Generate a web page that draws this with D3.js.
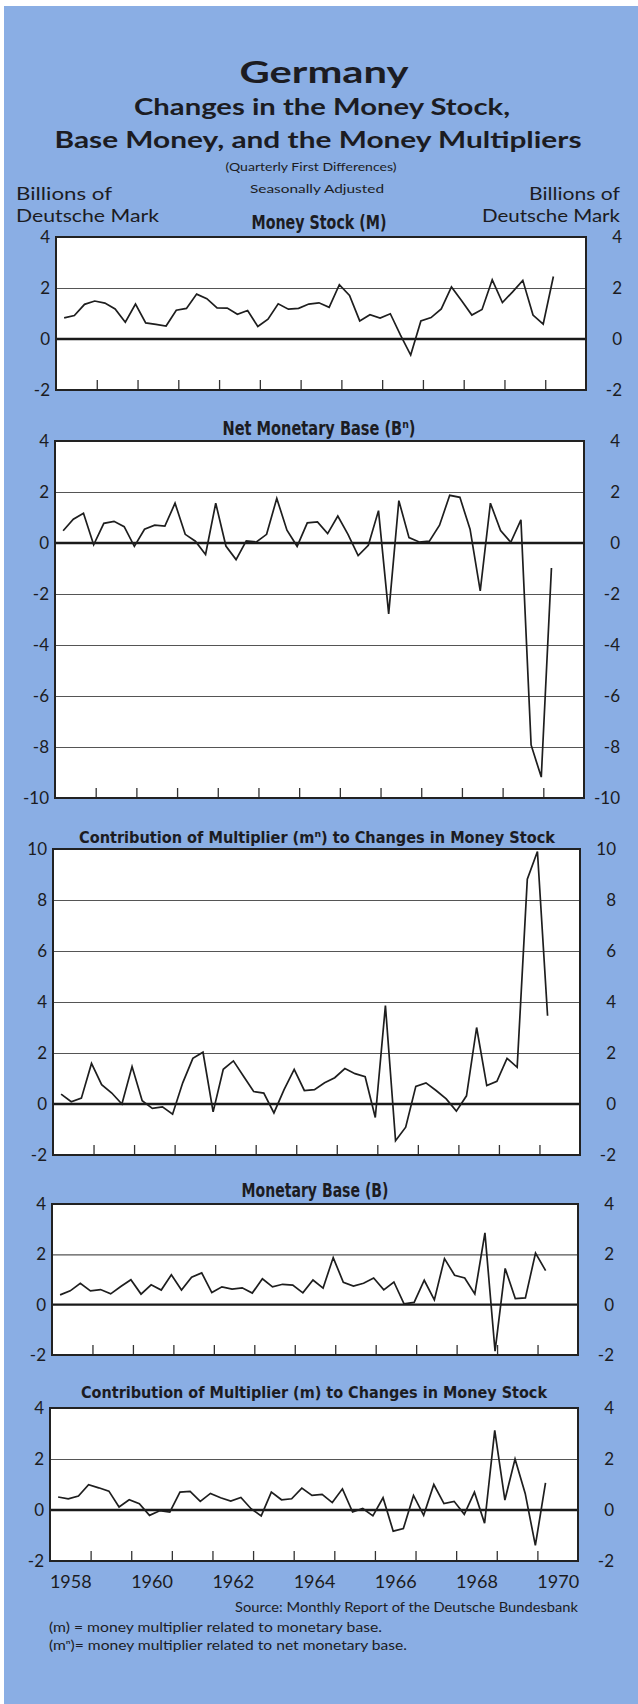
<!DOCTYPE html>
<html>
<head>
<meta charset="utf-8">
<script src="https://cdn.jsdelivr.net/npm/d3@7"></script>
<style>
  body { margin: 0; background: #fff; }
  svg text { fill: #1c1c22; }
  .geo { font-family: Lato, "Noto Sans", sans-serif; }
  .cond { font-family: "Liberation Sans Narrow", "DejaVu Sans Condensed", sans-serif; font-weight: bold; }
</style>
</head>
<body>
<div id="chart"></div>
<script>
// quarterly first differences, 1958Q1 .. 1970Q1
const quarters = d3.range(49).map(i => 1958 + i / 4);
const years = d3.range(1958, 1971);
const yearLabels = [1958, 1960, 1962, 1964, 1966, 1968, 1970];

const moneyStock = [0.83,0.92,1.36,1.49,1.41,1.18,0.66,1.37,0.63,0.57,
  0.51,1.13,1.2,1.76,1.58,1.22,1.21,0.97,1.12,0.49,
  0.78,1.38,1.17,1.2,1.37,1.42,1.24,2.13,1.71,0.71,
  0.95,0.82,0.99,0.15,-0.63,0.71,0.84,1.18,2.04,1.5,
  0.94,1.16,2.32,1.43,1.85,2.3,0.94,0.58,2.45];

const netBase = [0.48,0.93,1.17,-0.07,0.77,0.85,0.64,-0.13,0.54,0.7,
  0.66,1.56,0.34,0.07,-0.45,1.56,-0.12,-0.65,0.08,0.04,
  0.34,1.75,0.5,-0.13,0.79,0.83,0.37,1.06,0.34,-0.49,
  -0.09,1.27,-2.78,1.66,0.21,0.04,0.07,0.7,1.87,1.79,
  0.54,-1.88,1.56,0.49,0.03,0.91,-7.92,-9.18,-0.98];

const multNet = [0.39,0.09,0.23,1.59,0.76,0.43,0.0,1.47,0.13,-0.17,
  -0.11,-0.4,0.83,1.79,2.03,-0.31,1.36,1.69,1.09,0.49,
  0.43,-0.35,0.56,1.36,0.53,0.56,0.83,1.03,1.39,1.19,
  1.07,-0.53,3.86,-1.44,-0.91,0.69,0.83,0.53,0.2,-0.28,
  0.32,3.0,0.72,0.89,1.79,1.44,8.82,9.9,3.46];

const monetaryBase = [0.39,0.55,0.85,0.55,0.6,0.43,0.72,0.99,0.42,0.79,
  0.58,1.19,0.58,1.09,1.26,0.48,0.71,0.62,0.67,0.46,
  1.03,0.71,0.81,0.78,0.47,0.98,0.66,1.87,0.89,0.74,
  0.85,1.06,0.59,0.9,0.03,0.09,0.97,0.19,1.83,1.17,
  1.06,0.43,2.85,-1.85,1.44,0.24,0.27,2.05,1.35];

const mult = [0.51,0.44,0.55,0.99,0.87,0.74,0.12,0.4,0.25,-0.21,
  -0.03,-0.08,0.7,0.73,0.34,0.65,0.48,0.35,0.49,0.05,
  -0.23,0.7,0.4,0.44,0.86,0.57,0.61,0.29,0.83,-0.08,
  0.06,-0.23,0.48,-0.83,-0.73,0.57,-0.21,1.0,0.25,0.34,
  -0.17,0.7,-0.52,3.12,0.39,2.0,0.65,-1.39,1.06];

const width = 638, height = 1704;

const svg = d3.select("#chart").append("svg")
  .attr("width", width)
  .attr("height", height);

svg.append("rect")
  .attr("x", 4).attr("y", 6)
  .attr("width", width - 4).attr("height", height - 6)
  .attr("fill", "#8aaee4");

function label(txt, x, y, opts) {
  const t = svg.append("text")
    .attr("class", opts.cls || "geo")
    .attr("x", x).attr("y", y)
    .attr("text-anchor", opts.anchor || "middle")
    .attr("font-size", opts.size)
    .attr("font-weight", opts.weight || "normal")
    .text(txt);
  if (opts.len) t.attr("textLength", opts.len).attr("lengthAdjust", "spacingAndGlyphs");
  return t;
}

// heading
label("Germany", 324, 83, {size: 30, weight: 700, len: 169});
label("Changes in the Money Stock,", 322, 115, {size: 22, weight: 700, len: 376});
label("Base Money, and the Money Multipliers", 318, 148, {size: 22, weight: 700, len: 527});
label("(Quarterly First Differences)", 311, 171, {size: 12, len: 171});
label("Seasonally Adjusted", 317, 193, {size: 12, len: 134});
label("Billions of", 16, 200, {size: 17, anchor: "start", len: 96});
label("Deutsche Mark", 16, 222, {size: 17, anchor: "start", len: 143});
label("Billions of", 620, 200, {size: 17, anchor: "end", len: 91});
label("Deutsche Mark", 620, 222, {size: 17, anchor: "end", len: 138});

const panels = [
  {data: moneyStock, title: "Money Stock (M)", tx: 319, ty: 229, tlen: 135, tsize: 20,
   left: 56, right: 586, top: 237, bottom: 390, domain: [-2, 4]},
  {data: netBase, title: "Net Monetary Base (B\u207F)", tx: 319, ty: 435, tlen: 193, tsize: 20,
   left: 55, right: 584, top: 441, bottom: 798, domain: [-10, 4]},
  {data: multNet, title: "Contribution of Multiplier (m\u207F) to Changes in Money Stock", tx: 317, ty: 843, tlen: 476, tsize: 16.5,
   left: 53, right: 580, top: 849, bottom: 1155, domain: [-2, 10]},
  {data: monetaryBase, title: "Monetary Base (B)", tx: 315, ty: 1197, tlen: 147, tsize: 20,
   left: 52, right: 578, top: 1204, bottom: 1355, domain: [-2, 4]},
  {data: mult, title: "Contribution of Multiplier (m) to Changes in Money Stock", tx: 314, ty: 1398, tlen: 466, tsize: 16.5,
   left: 50, right: 578, top: 1408, bottom: 1561, domain: [-2, 4], years: true}
];

panels.forEach(p => {
  const x = d3.scaleLinear().domain([1958, 1971]).range([p.left, p.right]);
  const y = d3.scaleLinear().domain(p.domain).range([p.bottom, p.top]);
  const w = p.right - p.left;
  const tickVals = d3.range(p.domain[0], p.domain[1] + 1, 2);

  label(p.title, p.tx, p.ty, {size: p.tsize, cls: "cond", len: p.tlen});

  const g = svg.append("g");
  g.append("rect")
    .attr("x", p.left).attr("y", p.top)
    .attr("width", w).attr("height", p.bottom - p.top)
    .attr("fill", "#fff");

  // gridlines
  const grid = g.append("g")
    .attr("transform", `translate(${p.left},0)`)
    .call(d3.axisLeft(y).tickValues(tickVals.filter(v => v !== 0 && v !== p.domain[0] && v !== p.domain[1]))
      .tickSize(-w).tickFormat(""));
  grid.select(".domain").remove();
  grid.selectAll("line").attr("stroke", "#555").attr("stroke-width", 1.2);

  g.append("line")
    .attr("x1", p.left).attr("x2", p.right)
    .attr("y1", y(0)).attr("y2", y(0))
    .attr("stroke", "#1a1a1a").attr("stroke-width", 2.4);

  // year ticks along bottom
  const xt = g.append("g")
    .attr("transform", `translate(0,${p.bottom})`)
    .call(d3.axisBottom(x).tickValues(years.slice(1)).tickSize(-10).tickFormat(""));
  xt.select(".domain").remove();
  xt.selectAll("line").attr("stroke", "#333").attr("stroke-width", 1.3);

  g.append("rect")
    .attr("x", p.left).attr("y", p.top)
    .attr("width", w).attr("height", p.bottom - p.top)
    .attr("fill", "none").attr("stroke", "#222").attr("stroke-width", 2);

  // series
  g.append("path")
    .datum(p.data)
    .attr("fill", "none")
    .attr("stroke", "#1e1e1e")
    .attr("stroke-width", 1.7)
    .attr("d", d3.line().x((d, i) => x(quarters[i] + 0.2)).y(d => y(d)));

  // value labels on both sides
  const la = svg.append("g")
    .attr("transform", `translate(${p.left},0)`)
    .call(d3.axisLeft(y).tickValues(tickVals).tickSize(0).tickPadding(6).tickFormat(d => String(d)));
  la.select(".domain").remove();
  const ra = svg.append("g")
    .attr("transform", `translate(${p.right},0)`)
    .call(d3.axisRight(y).tickValues(tickVals).tickSize(0).tickFormat(d => String(d)));
  ra.select(".domain").remove();
  ra.selectAll("text").attr("x", 36).attr("text-anchor", "end");
  [la, ra].forEach(a => a.selectAll("text")
    .attr("class", "geo").attr("font-size", 17).attr("fill", "#1c1c22"));

  if (p.years) {
    const ya = svg.append("g")
      .attr("transform", `translate(0,${p.bottom})`)
      .call(d3.axisBottom(x).tickValues(yearLabels.map(v => v + 0.5)).tickSize(0).tickPadding(14)
        .tickFormat(d => String(Math.floor(d))));
    ya.select(".domain").remove();
    ya.selectAll("text").attr("class", "geo").attr("font-size", 18).attr("fill", "#1c1c22");
  }
});

label("Source: Monthly Report of the Deutsche Bundesbank", 578, 1612, {size: 13, anchor: "end", len: 343});
label("(m) = money multiplier related to monetary base.", 49, 1632, {size: 13, anchor: "start", len: 333});
label("(m\u207F)= money multiplier related to net monetary base.", 49, 1650, {size: 13, anchor: "start", len: 358});
</script>
</body>
</html>
